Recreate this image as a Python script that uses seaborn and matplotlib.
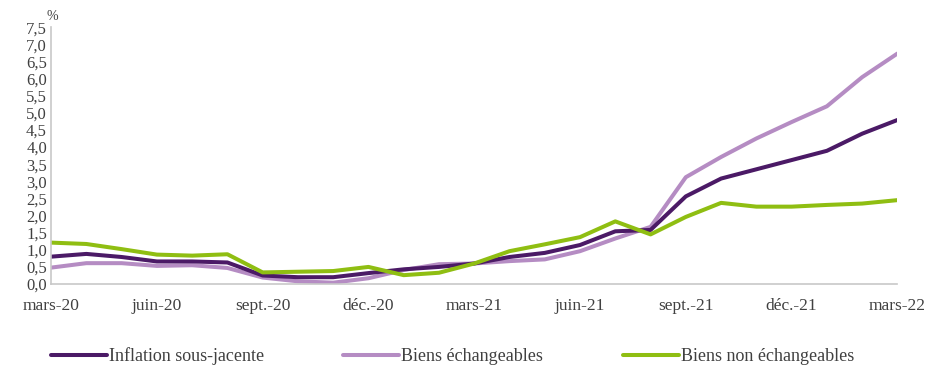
import matplotlib
matplotlib.use("Agg")
import matplotlib.pyplot as plt
import seaborn as sns
import pandas as pd
from matplotlib.ticker import FuncFormatter

months = ["mars-20", "avr.-20", "mai-20", "juin-20", "juil.-20", "août-20", "sept.-20",
          "oct.-20", "nov.-20", "déc.-20", "janv.-21", "févr.-21", "mars-21", "avr.-21",
          "mai-21", "juin-21", "juil.-21", "août-21", "sept.-21", "oct.-21", "nov.-21",
          "déc.-21", "janv.-22", "févr.-22", "mars-22"]

inflation = [0.80, 0.88, 0.79, 0.66, 0.66, 0.63, 0.25, 0.20, 0.20, 0.32, 0.43, 0.50, 0.60,
             0.79, 0.91, 1.14, 1.54, 1.58, 2.56, 3.08, 3.35, 3.62, 3.89, 4.39, 4.79]
echangeables = [0.48, 0.61, 0.61, 0.53, 0.55, 0.47, 0.19, 0.08, 0.04, 0.17, 0.41, 0.58, 0.60,
                0.67, 0.72, 0.96, 1.33, 1.67, 3.12, 3.71, 4.25, 4.73, 5.19, 6.04, 6.73]
non_echangeables = [1.21, 1.17, 1.02, 0.86, 0.83, 0.87, 0.34, 0.36, 0.38, 0.50, 0.26, 0.33, 0.60,
                    0.96, 1.16, 1.37, 1.83, 1.45, 1.96, 2.37, 2.26, 2.26, 2.31, 2.35, 2.45]

series = {
    "Inflation sous-jacente": (inflation, "#4b1a66"),
    "Biens échangeables": (echangeables, "#b58cc3"),
    "Biens non échangeables": (non_echangeables, "#8fbe12"),
}
draw_order = ["Biens échangeables", "Inflation sous-jacente", "Biens non échangeables"]

sns.set_style("white")
plt.rcParams["font.family"] = ["Liberation Serif", "DejaVu Serif"]
text_col = "#404040"
grey = "#c8c8c8"

fig = plt.figure(figsize=(9.29, 3.67), dpi=100)
ax = fig.add_axes([0.055, 0.226, 0.911, 0.70])

x = list(range(len(months)))
lines = {}
for name in draw_order:
    vals, col = series[name]
    df = pd.DataFrame({"x": x, "y": vals})
    sns.lineplot(data=df, x="x", y="y", ax=ax, color=col, linewidth=2.9,
                 label=name, legend=False)
    lines[name] = ax.get_lines()[-1]

ax.set_xlim(0, 24)
ax.set_ylim(0, 7.5)
ax.set_yticks([i * 0.5 for i in range(16)])
ax.yaxis.set_major_formatter(FuncFormatter(lambda v, p: f"{v:.1f}".replace(".", ",")))
ax.set_xticks(x[::3])
ax.set_xticklabels(months[::3])
ax.set_xlabel("")
ax.set_ylabel("")

for s in ["top", "right"]:
    ax.spines[s].set_visible(False)
for s in ["left", "bottom"]:
    ax.spines[s].set_color(grey)
    ax.spines[s].set_linewidth(1.2)

ax.tick_params(axis="x", direction="out", length=6, width=1.2, color=grey,
               labelsize=12.5, labelcolor=text_col, pad=4)
ax.tick_params(axis="y", length=0, labelsize=12, labelcolor=text_col, pad=3)
ax.grid(False)

ax.text(-0.005, 1.015, "%", transform=ax.transAxes, fontsize=10, color=text_col,
        ha="left", va="bottom")

names = list(series.keys())
fig.legend([lines[n] for n in names], names, loc="center left",
           bbox_to_anchor=(0.037, 0.03), ncol=3, frameon=False, fontsize=13,
           handlelength=3.1, handletextpad=0.12, columnspacing=4.4,
           labelcolor=text_col)

fig.savefig("out.png", dpi=100)
